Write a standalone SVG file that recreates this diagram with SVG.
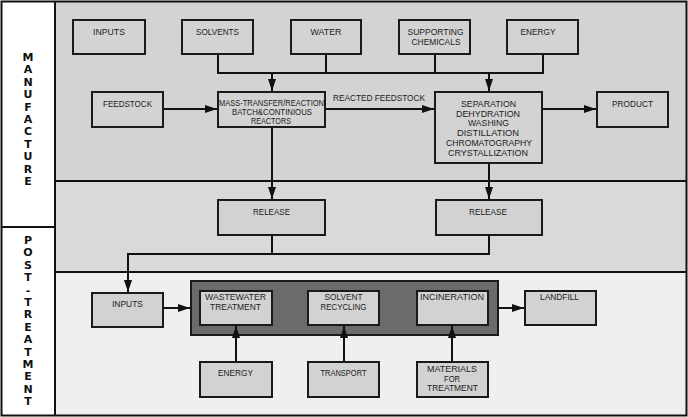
<svg xmlns="http://www.w3.org/2000/svg" width="688" height="417" viewBox="0 0 688 417">
<style>
.t{font-family:"Liberation Sans",Arial,sans-serif;font-size:9px;fill:#222;text-anchor:middle}
.v{font-family:"DejaVu Sans","Liberation Sans",sans-serif;font-size:11px;font-weight:bold;fill:#111;writing-mode:vertical-rl;text-orientation:upright;letter-spacing:-0.6px}
.b{fill:#d3d3d3;stroke:#1a1a1a;stroke-width:2}
.p{fill:#d2d2d2;stroke:#1a1a1a;stroke-width:2}
.c{fill:none;stroke:#111;stroke-width:2}
.s{stroke:#111;stroke-width:2;fill:none}
</style>
<defs>
<marker id="ar" markerUnits="userSpaceOnUse" markerWidth="13" markerHeight="9" refX="12" refY="4" orient="auto">
<path d="M0,0 L12,4 L0,8 z" fill="#111"/>
</marker>
</defs>
<g id="frame">
<rect x="55" y="2" width="631" height="179" fill="#d3d3d3"/>
<rect x="55" y="181" width="631" height="91" fill="#d9d9d9"/>
<rect x="55" y="272" width="631" height="143" fill="#efefef"/>
<rect x="2" y="2" width="53" height="413" fill="#fff"/>
<rect x="1.5" y="1.5" width="685" height="414" class="s"/>
<line x1="55" y1="1.5" x2="55" y2="415.5" class="s"/>
<line x1="2" y1="227" x2="55" y2="227" class="s"/>
<line x1="55" y1="181" x2="686" y2="181" class="s"/>
<line x1="55" y1="272" x2="686" y2="272" class="s"/>
</g>
<g id="label-manufacture"><text class="v" x="28" y="51">MANUFACTURE</text></g>
<g id="label-post-treatment"><text class="v" x="28" y="234">POST-TREATMENT</text></g>
<g id="treatment-group"><rect x="191" y="281" width="307" height="54" fill="#6b6b6b" stroke="#1a1a1a" stroke-width="2"/></g>
<g id="connectors">
<path class="c" d="M218,54 V73 H543 V54 M326,54 V73 M435,54 V73"/>
<path class="c" d="M272,73 V91" marker-end="url(#ar)"/>
<path class="c" d="M489,73 V91" marker-end="url(#ar)"/>
<path class="c" d="M163,109 H217" marker-end="url(#ar)"/>
<path class="c" d="M325,109 H434" marker-end="url(#ar)"/>
<path class="c" d="M542,109 H596" marker-end="url(#ar)"/>
<path class="c" d="M272,127 V199" marker-end="url(#ar)"/>
<path class="c" d="M489,163 V199" marker-end="url(#ar)"/>
<path class="c" d="M272,235 V254"/>
<path class="c" d="M489,235 V254 H128 V292" marker-end="url(#ar)"/>
<path class="c" d="M163,308 H190" marker-end="url(#ar)"/>
<path class="c" d="M498,308 H524" marker-end="url(#ar)"/>
<path class="c" d="M236,362 V326" marker-end="url(#ar)"/>
<path class="c" d="M344,362 V326" marker-end="url(#ar)"/>
<path class="c" d="M452,362 V326" marker-end="url(#ar)"/>
<text class="t" x="379" y="101" textLength="92" lengthAdjust="spacingAndGlyphs">REACTED FEEDSTOCK</text>
</g>
<g id="inputs-top"><rect class="b" x="73" y="20" width="72" height="34"/><text class="t" x="109" y="35" textLength="32" lengthAdjust="spacingAndGlyphs">INPUTS</text></g>
<g id="solvents"><rect class="b" x="182" y="20" width="71" height="34"/><text class="t" x="217.5" y="35" textLength="43" lengthAdjust="spacingAndGlyphs">SOLVENTS</text></g>
<g id="water"><rect class="b" x="291" y="20" width="70" height="34"/><text class="t" x="326" y="35" textLength="31" lengthAdjust="spacingAndGlyphs">WATER</text></g>
<g id="supporting"><rect class="b" x="399" y="20" width="71" height="34"/><text class="t" x="435.5" y="35" textLength="56" lengthAdjust="spacingAndGlyphs">SUPPORTING</text><text class="t" x="436" y="44.5" textLength="49" lengthAdjust="spacingAndGlyphs">CHEMICALS</text></g>
<g id="energy-top"><rect class="b" x="507" y="20" width="71" height="34"/><text class="t" x="538" y="35" textLength="35" lengthAdjust="spacingAndGlyphs">ENERGY</text></g>
<g id="feedstock"><rect class="b" x="92" y="92" width="71" height="35"/><text class="t" x="127.5" y="107" textLength="49" lengthAdjust="spacingAndGlyphs">FEEDSTOCK</text></g>
<g id="reactor"><rect class="b" x="218" y="92" width="107" height="35"/>
<text class="t" x="271.5" y="106" textLength="105" lengthAdjust="spacingAndGlyphs">MASS-TRANSFER/REACTION</text>
<text class="t" x="272" y="115" textLength="80" lengthAdjust="spacingAndGlyphs">BATCH&amp;CONTINIOUS</text>
<text class="t" x="271" y="124" textLength="40" lengthAdjust="spacingAndGlyphs">REACTORS</text></g>
<g id="separation"><rect class="b" x="435" y="92" width="107" height="71"/>
<text class="t" x="488.5" y="106.5" textLength="55" lengthAdjust="spacingAndGlyphs">SEPARATION</text>
<text class="t" x="488" y="116.5" textLength="64" lengthAdjust="spacingAndGlyphs">DEHYDRATION</text>
<text class="t" x="488.5" y="125.5" textLength="41" lengthAdjust="spacingAndGlyphs">WASHING</text>
<text class="t" x="488" y="135.5" textLength="62" lengthAdjust="spacingAndGlyphs">DISTILLATION</text>
<text class="t" x="489" y="146" textLength="86" lengthAdjust="spacingAndGlyphs">CHROMATOGRAPHY</text>
<text class="t" x="488" y="156" textLength="80" lengthAdjust="spacingAndGlyphs">CRYSTALLIZATION</text></g>
<g id="product"><rect class="b" x="597" y="92" width="71" height="35"/><text class="t" x="632.5" y="106.5" textLength="41" lengthAdjust="spacingAndGlyphs">PRODUCT</text></g>
<g id="release-1"><rect class="p" x="218" y="200" width="107" height="35"/><text class="t" x="271.5" y="214.5" textLength="37" lengthAdjust="spacingAndGlyphs">RELEASE</text></g>
<g id="release-2"><rect class="p" x="436" y="200" width="106" height="35"/><text class="t" x="488" y="214.5" textLength="38" lengthAdjust="spacingAndGlyphs">RELEASE</text></g>
<g id="inputs-post"><rect class="p" x="92" y="293" width="71" height="34"/><text class="t" x="127.5" y="307" textLength="31" lengthAdjust="spacingAndGlyphs">INPUTS</text></g>
<g id="wastewater"><rect class="p" x="200" y="291" width="72" height="34"/><text class="t" x="235.5" y="300" textLength="61" lengthAdjust="spacingAndGlyphs">WASTEWATER</text><text class="t" x="235.5" y="310" textLength="51" lengthAdjust="spacingAndGlyphs">TREATMENT</text></g>
<g id="solvent-recycling"><rect class="p" x="308" y="291" width="71" height="34"/><text class="t" x="343.5" y="300" textLength="38" lengthAdjust="spacingAndGlyphs">SOLVENT</text><text class="t" x="343.5" y="310" textLength="46" lengthAdjust="spacingAndGlyphs">RECYCLING</text></g>
<g id="incineration"><rect class="p" x="417" y="291" width="71" height="34"/><text class="t" x="452" y="300" textLength="64" lengthAdjust="spacingAndGlyphs">INCINERATION</text></g>
<g id="landfill"><rect class="p" x="525" y="291" width="71" height="34"/><text class="t" x="559.5" y="300" textLength="39" lengthAdjust="spacingAndGlyphs">LANDFILL</text></g>
<g id="energy-post"><rect class="p" x="200" y="362" width="72" height="35"/><text class="t" x="235.5" y="376" textLength="35" lengthAdjust="spacingAndGlyphs">ENERGY</text></g>
<g id="transport"><rect class="p" x="308" y="362" width="71" height="35"/><text class="t" x="343.5" y="376" textLength="46" lengthAdjust="spacingAndGlyphs">TRANSPORT</text></g>
<g id="materials"><rect class="p" x="417" y="362" width="71" height="35"/><text class="t" x="452" y="372" textLength="50" lengthAdjust="spacingAndGlyphs">MATERIALS</text><text class="t" x="452" y="381.5" textLength="16" lengthAdjust="spacingAndGlyphs">FOR</text><text class="t" x="452.5" y="391" textLength="51" lengthAdjust="spacingAndGlyphs">TREATMENT</text></g>
</svg>
